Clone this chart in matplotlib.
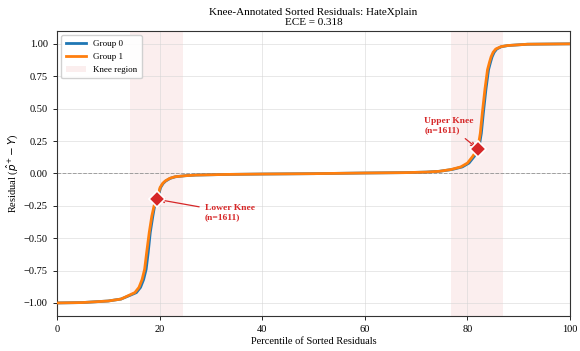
import matplotlib
matplotlib.use("Agg")
import matplotlib.pyplot as plt

# sorted residual curves (percentile, residual)
pct_g1 = [0, 5, 10, 12.5, 13.9, 15.2, 16.0, 16.6, 17.1, 17.5, 18.0, 18.5, 19.0, 19.5,
          20.1, 20.6, 21.1, 22.0, 23.0, 25.0, 27.0, 33.0, 40.0, 50.0, 60.0, 68.0,
          72.0, 74.5, 76.8, 78.7, 80.0, 81.0, 82.0, 82.5, 82.9, 83.4, 83.9, 84.3,
          84.6, 85.0, 85.5, 86.5, 87.8, 91.7, 100]
res_g1 = [-1.0, -0.997, -0.985, -0.97, -0.944, -0.92, -0.88, -0.82, -0.74, -0.61,
          -0.456, -0.33, -0.24, -0.20, -0.11, -0.078, -0.059, -0.038, -0.026, -0.018,
          -0.013, -0.008, -0.005, -0.002, 0.003, 0.006, 0.010, 0.016, 0.03, 0.05,
          0.08, 0.13, 0.19, 0.31, 0.47, 0.65, 0.80, 0.86, 0.90, 0.935, 0.96, 0.978,
          0.987, 0.997, 1.0]

pct_g0 = [0, 5, 10, 12.5, 14.1, 15.5, 16.3, 16.9, 17.4, 17.8, 18.2, 18.7, 19.1, 19.6,
          20.2, 20.7, 21.2, 22.1, 23.1, 25.0, 27.0, 33.0, 40.0, 50.0, 60.0, 68.0,
          72.0, 74.5, 77.0, 79.0, 80.3, 81.3, 82.2, 82.7, 83.1, 83.6, 84.1, 84.5,
          84.8, 85.2, 85.7, 86.6, 87.9, 91.7, 100]
res_g0 = res_g1

lower_knee = (19.5, -0.20)
upper_knee = (82.0, 0.19)
knee_spans = [(14.3, 24.5), (76.7, 86.9)]
knee_n = [1611, 1611]
ece = 0.318

plt.rcParams["font.family"] = ["Liberation Serif", "DejaVu Serif"]
red = "#d62728"

fig = plt.figure(figsize=(5.8, 3.51), dpi=100)
ax = fig.add_axes([0.098, 0.1, 0.885, 0.812])

h_span = None
for a, b in knee_spans:
    h_span = ax.axvspan(a, b, color=red, alpha=0.08, lw=0, zorder=0)

h0, = ax.plot(pct_g0, res_g0, color="#1f77b4", lw=2.0, zorder=2)
h1, = ax.plot(pct_g1, res_g1, color="#ff7f0e", lw=2.0, zorder=3)
ax.axhline(0, color="gray", ls="--", lw=0.7, alpha=0.7, zorder=1)

ax.plot(*lower_knee, marker="D", ms=8, color=red, mec="white", mew=1.2, zorder=5)
ax.plot(*upper_knee, marker="D", ms=8, color=red, mec="white", mew=1.2, zorder=5)

ax.annotate(f"Lower Knee\n(n={knee_n[0]})", xy=lower_knee, xytext=(28.8, -0.30),
            fontsize=6.8, fontweight="bold", color=red, va="center", ha="left",
            arrowprops=dict(arrowstyle="->", color=red, lw=0.9), zorder=4)
ax.annotate(f"Upper Knee\n(n={knee_n[1]})", xy=upper_knee, xytext=(71.6, 0.37),
            fontsize=6.8, fontweight="bold", color=red, va="center", ha="left",
            arrowprops=dict(arrowstyle="->", color=red, lw=0.9), zorder=4)

ax.set_xlim(0, 100)
ax.set_ylim(-1.1, 1.1)
ax.set_xticks([0, 20, 40, 60, 80, 100])
ax.set_yticks([-1.0, -0.75, -0.5, -0.25, 0.0, 0.25, 0.5, 0.75, 1.0])
ax.tick_params(labelsize=7.5, length=3, width=0.6)
ax.grid(True, color="lightgray", alpha=0.6, lw=0.6)
ax.set_axisbelow(True)
for s in ax.spines.values():
    s.set_linewidth(0.8)
    s.set_color("#333333")

ax.set_xlabel("Percentile of Sorted Residuals", fontsize=7.5, labelpad=2)
ax.set_ylabel(r"Residual ($\hat{p}^{+} - Y$)", fontsize=7.5, labelpad=3)
ax.set_title(f"Knee-Annotated Sorted Residuals: HateXplain\nECE = {ece:.3f}",
             fontsize=8, pad=4)
ax.legend([h0, h1, h_span], ["Group 0", "Group 1", "Knee region"],
          loc="upper left", fontsize=6.5, framealpha=0.9, borderpad=0.5,
          handlelength=2.2, edgecolor="#cccccc")

fig.savefig("out.png", dpi=100)
